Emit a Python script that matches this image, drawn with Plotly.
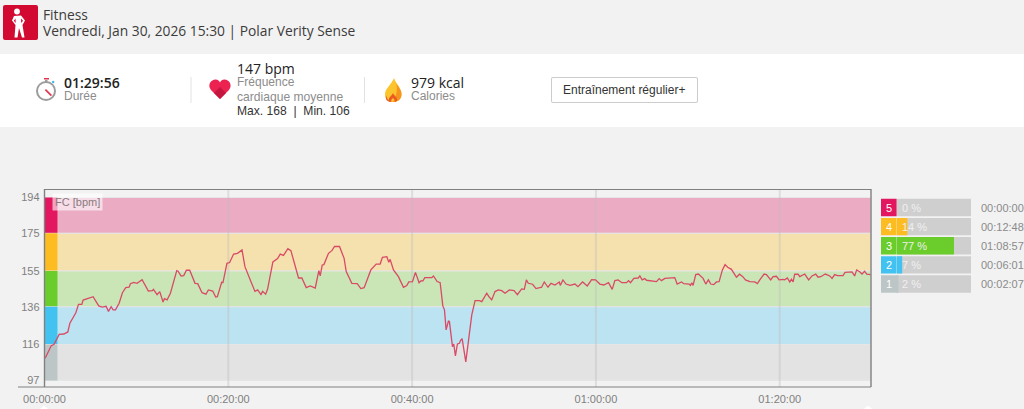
import re

import plotly.graph_objects as go

# courbe FC : minutes depuis le debut / bpm
hr_minutes = [0.07, 0.73, 1.02, 1.3, 1.6, 2.1, 2.54, 2.76, 3.41, 3.7, 4.06, 4.2, 4.64, 5.29, 5.9, 6.27, 6.7, 6.96, 7.25, 7.47,
              7.72, 8.12, 8.48, 8.84, 9.2, 9.35, 9.71, 10.07, 10.62, 11.3, 11.74, 11.85, 12.25, 12.54, 12.9, 13.05, 13.34, 13.7, 14.39, 14.53,
              14.86, 15.15, 15.44, 15.8, 16.38, 16.67, 17.14, 17.57, 17.83, 18.3, 18.63, 18.81, 19.28, 19.42, 19.85, 20.14, 20.58, 21.0, 21.49, 21.81,
              22.39, 22.9, 23.19, 23.55, 23.73, 24.06, 24.27, 24.85, 25.36, 25.65, 26.01, 26.48, 26.81, 27.64, 28.0, 28.48, 28.91, 29.46, 29.85, 30.0,
              30.22, 30.4, 30.9, 31.27, 31.56, 32.1, 32.6, 32.83, 33.44, 34.02, 34.42, 34.78, 35.51, 36.09, 36.52, 36.77, 37.25, 37.46, 37.61, 37.97,
              38.51, 39.06, 39.42, 39.64, 40.04, 40.36, 40.76, 40.98, 41.16, 41.38, 42.14, 42.32, 42.72, 43.05, 43.34, 43.52, 43.7, 43.95, 44.06, 44.39,
              44.53, 44.71, 44.93, 45.15, 45.26, 45.44, 45.84, 46.05, 46.49, 46.85, 47.32, 47.58, 48.12, 48.41, 48.66, 49.02, 49.38, 49.75, 50.11, 50.58,
              51.09, 51.45, 51.92, 52.21, 52.43, 52.64, 53.11, 53.48, 54.09, 54.38, 54.78, 55.11, 55.54, 56.01, 56.12, 56.41, 56.74, 57.17, 57.72, 58.04,
              58.55, 59.06, 59.53, 59.96, 60.43, 60.86, 61.37, 61.77, 62.06, 62.42, 62.82, 63.33, 63.55, 63.76, 64.13, 64.6, 64.78, 65.03, 65.32, 65.5,
              66.15, 66.59, 66.88, 67.13, 67.5, 68.58, 68.84, 69.31, 69.56, 70.14, 70.28, 70.43, 70.57, 70.86, 71.15, 71.66, 71.95, 72.24, 72.49, 72.82,
              73.11, 73.4, 73.76, 74.05, 74.34, 74.74, 75.11, 75.29, 75.62, 75.98, 76.27, 76.74, 77.28, 77.57, 77.83, 78.3, 78.55, 79.02, 79.28, 79.64,
              79.93, 80.36, 80.54, 80.83, 81.09, 81.27, 81.45, 81.63, 81.99, 82.18, 82.72, 83.15, 83.51, 83.91, 84.17, 84.46, 84.96, 85.44, 85.69, 85.98,
              86.27, 86.89, 87.1, 87.86, 88.15, 88.37, 88.73, 88.95, 89.24, 89.46, 89.89]
hr_bpm = [108.7, 115.4, 116, 118.4, 121.4, 121.6, 122.7, 127.3, 132.9, 137.3, 137.3, 139.6, 140.2, 141.4, 136.5, 135.9, 136.3, 133.6, 136.1, 134.4,
          134.4, 137.9, 143.5, 146.2, 146.4, 148.3, 149, 148.5, 150.4, 144.4, 144.6, 145.3, 142.5, 144.1, 138.6, 140.4, 139.7, 143.2, 155.2, 154.9,
          152.4, 152.6, 155.4, 155.4, 148.5, 148.3, 143.5, 142.7, 145, 144.4, 141.2, 141.4, 149, 148.9, 159.1, 159.5, 164, 164.4, 166.2, 157.3,
          150.3, 144.2, 145, 142.5, 144.2, 142.7, 145.3, 159.8, 161.6, 164, 163.3, 166.9, 165.8, 151.3, 151.3, 146.2, 147.1, 146, 155.2, 152.4,
          158.2, 158.4, 164.4, 165.8, 168, 168, 161.7, 154.7, 148.5, 148.3, 145.7, 146.2, 155.6, 158.7, 158.7, 162.3, 162.6, 159.6, 161.2, 155.6,
          152, 146.4, 147.3, 149.2, 149.4, 154.3, 148.8, 149.9, 149.7, 151.5, 151.5, 152.4, 149.4, 148.8, 136.5, 134.4, 123.8, 128.4, 128.2, 114.9,
          116.3, 110, 116.3, 116.7, 118.1, 119.2, 106.8, 114.9, 131.7, 139.3, 139.3, 138.8, 143.2, 141.1, 139.7, 144.1, 145, 144.6, 143.2, 145,
          144.6, 142.5, 145.5, 145.3, 150.3, 148.5, 148, 145.7, 146.4, 149.2, 146.4, 148.5, 147.6, 149.2, 147.4, 150.3, 148.1, 147.4, 148.1, 146.7,
          149.2, 147.1, 150.4, 150.3, 148.1, 147.6, 148.8, 145.3, 149.9, 150.3, 148.8, 148.8, 149.9, 148.8, 151.1, 151.3, 152.4, 150.3, 151, 150.1,
          149.9, 149.4, 151, 149.9, 151.1, 151.5, 148.1, 149.2, 148.3, 148.1, 147.4, 148.8, 147.4, 153.1, 153.4, 151.1, 148.1, 150.3, 148.1, 147.8,
          149.2, 149.4, 155.6, 158.4, 157, 155.9, 153.1, 151.7, 153.3, 152, 150.3, 149.4, 149.2, 148.3, 150.3, 153.4, 153.1, 150.3, 152, 152.2,
          150.3, 150.6, 150.3, 151.3, 149.2, 150.6, 149.2, 153.3, 153.4, 152, 153.4, 150.3, 152.4, 153.4, 151.7, 152, 153.4, 152.4, 151.1, 153.1,
          152.6, 152.6, 154.3, 154.5, 152.4, 155.6, 154.5, 153.4, 154.9, 153.4, 153.1]

# zones cardiaques, de 5 a 1
zone_names = ["Z5", "Z4", "Z3", "Z2", "Z1"]
zone_tops = [194, 175, 155, 136, 116]
zone_bottoms = [175, 155, 136, 116, 97]
zone_pct = [0, 14, 77, 7, 2]
zone_pct_labels = ["0 %", "14 %", "77 %", "7 %", "2 %"]
zone_times = ["00:00:00", "00:12:48", "01:08:57", "00:06:01", "00:02:07"]
zone_colors = ["#e2175f", "#fdbc21", "#6acd2b", "#42c2f0", "#bcc6c6"]
band_colors = ["#ebabc3", "#f5e1ae", "#cae6b6", "#bce3f2", "#e2e3e2"]

y_ticks = [194, 175, 155, 136, 116, 97]
x_ticks = [0, 20, 40, 60, 80]
x_labels = ["00:00:00", "00:20:00", "00:40:00", "01:00:00", "01:20:00"]

BG = "#f2f2f2"
GREY = "#808080"
DARK = "#3c3c3c"
UI_FONT = "Open Sans"
NUM_FONT = "Liberation Sans"
W, H = 1024, 409
Y_RANGE = [93.5, 198.5]


def px(x):
    return round(x / W, 5)


def py(y):
    return round(1 - y / H, 5)


fig = go.Figure()

fig.add_trace(go.Scatter(x=hr_minutes, y=hr_bpm, mode="lines", line=dict(color="#d94a66", width=1.3),
                         showlegend=False, hoverinfo="skip"))

# barres de zones a droite
fig.add_trace(go.Bar(y=zone_names, x=[100] * 5, base=0, orientation="h", marker=dict(color="#cfcfcf"),
                     xaxis="x2", yaxis="y2", showlegend=False, hoverinfo="skip"))
fig.add_trace(go.Bar(y=zone_names, x=zone_pct, base=0, orientation="h", marker=dict(color=zone_colors),
                     xaxis="x2", yaxis="y2", showlegend=False, hoverinfo="skip"))
fig.add_trace(go.Bar(y=zone_names, x=[21.1] * 5, base=-21.6, orientation="h", marker=dict(color=zone_colors),
                     xaxis="x2", yaxis="y2", showlegend=False, hoverinfo="skip"))

shapes = []

# bandes de zones et pastilles a gauche
for top, bottom, band, chip in zip(zone_tops, zone_bottoms, band_colors, zone_colors):
    shapes.append(dict(type="rect", xref="x", yref="y", x0=0, x1=89.93, y0=bottom, y1=top, fillcolor=band,
                       line=dict(color="#e6e6e6", width=1), layer="below"))
    shapes.append(dict(type="rect", xref="x", yref="y", x0=0, x1=1.41, y0=bottom, y1=top, fillcolor=chip,
                       line=dict(width=0), layer="below"))
for t in x_ticks[1:]:
    shapes.append(dict(type="line", xref="x", yref="y", x0=t, x1=t, y0=Y_RANGE[0], y1=Y_RANGE[1],
                       line=dict(color="rgba(190,190,190,0.4)", width=2), layer="below"))


def rect(x0, y0, x1, y1, fill):
    shapes.append(dict(type="rect", xref="paper", yref="paper", x0=px(x0), y0=py(y0), x1=px(x1), y1=py(y1),
                       fillcolor=fill, line=dict(width=0), layer="below"))


def hv_line(x0, y0, x1, y1, color, width):
    shapes.append(dict(type="line", xref="paper", yref="paper", x0=px(x0), y0=py(y0), x1=px(x1), y1=py(y1),
                       line=dict(color=color, width=width), layer="above"))


# chemins ecrits en pixels, convertis en coordonnees paper (commandes absolues seulement)
def path(d, fill):
    parts = re.findall(r"[MLQCZ]|-?[\d.]+", d)
    out, is_x = [], True
    for p in parts:
        if p in "MLQCZ":
            out.append(p)
        else:
            out.append(str(px(float(p)) if is_x else py(float(p))))
            is_x = not is_x
    shapes.append(dict(type="path", xref="paper", yref="paper", path=" ".join(out), fillcolor=fill,
                       line=dict(width=0), layer="above"))


def circle(cx, cy, r, fill):
    shapes.append(dict(type="circle", xref="paper", yref="paper", x0=px(cx - r), x1=px(cx + r), y0=py(cy + r), y1=py(cy - r),
                       fillcolor=fill, line=dict(width=0), layer="above"))


# panneau blanc
rect(0, 54, 1024, 127, "#ffffff")
# cadre du graphique
hv_line(44.5, 189, 44.5, 387, GREY, 1.4)
hv_line(44.5, 189.5, 871, 189.5, GREY, 1.2)
hv_line(871, 189, 871, 387, GREY, 1.4)
hv_line(18, 387, 871, 387, GREY, 1.2)
# repere bas
path("M40,409 L44,405.5 L48,409 Z", "#ffffff")
path("M864,409 L868,405.5 L872,409 Z", "#ffffff")
# separateurs
hv_line(191, 77, 191, 103, "#e2e2e2", 1)
hv_line(364.5, 77, 364.5, 103, "#e2e2e2", 1)
# bouton
path("M553,77 L696,77 Q698,77 698,79 L698,101 Q698,103 696,103 L553,103 Q551,103 551,101 L551,79 Q551,77 553,77 Z", "#cccccc")
path("M553,78 L696,78 Q697,78 697,79 L697,101 Q697,102 696,102 L553,102 Q552,102 552,101 L552,79 Q552,78 553,78 Z", "#ffffff")

# icone sport
path("M5,5 L36,5 Q38,5 38,7 L38,38 Q38,40 36,40 L5,40 Q3,40 3,38 L3,7 Q3,5 5,5 Z", "#d20a32")
circle(17, 11.5, 2.9, "#ffffff")
path("M14,16 L21,15.5 L25,20.5 L22.5,25 L24.5,37.5 L22,37.5 L19,28 L17.5,37.5 L14.5,37.5 L15.5,25 L12,20.5 Z", "#ffffff")
path("M15.5,18.5 L13.8,20.7 L15.7,23 Z", "#d20a32")
path("M21,18.5 L23,20.7 L21.2,23 Z", "#d20a32")

# chrono
circle(46, 91, 10, "#9c9c9c")
circle(46, 91, 8, "#ffffff")
path("M44,78 L49,78 L49,79.5 L44,79.5 Z", "#e2344f")
path("M45,80 L47.5,80 L47.5,82 L45,82 Z", "#9c9c9c")
circle(53.2, 82, 1.2, "#3fb4ea")
path("M44.8,90.2 L46,89 L52,95 L50.8,96.3 Z", "#e2344f")

# coeur
path("M220,99 L211,90 C207,85 211,79.5 215.5,79.5 C218,79.5 219.5,81 220,82.5 C220.5,81 222,79.5 224.5,79.5 C229,79.5 233,85 229,90 Z", "#ec2350")
path("M220,99 L214,93 L220,87 L226,93 Z", "#c5163f")

# flamme
path("M394,78 C396,84 402,88 401.5,95 C401,100 397,102 393,102 C389,102 385,100 385,94 C385,89 391,85 394,78 Z", "#fdc52d")
path("M396,83 C398,87 402,90 401.5,95 C401,100 397,102 393,102 C396,97 398,90 396,83 Z", "#f7941d")
path("M386,95 C387,99 389,102 393,102 L391,102 C388,102 385,100 386,95 Z", "#ec5a23")
path("M393,93 C394,96 398,97 397,101 L395,102 C395,100 394,99 393,98 C392,99 391,100 391,102 L389,101 C388,97 392,96 393,93 Z", "#ec5a23")

annotations = []


def label(x, y, text, size, color, font=UI_FONT, anchor="left", weight=400):
    # les annotations ont ~2px de marge interne a gauche
    shift = -2 if anchor == "left" else 0
    annotations.append(dict(xref="paper", yref="paper", x=px(x), y=py(y), xshift=shift, text=text, showarrow=False,
                            xanchor=anchor, yanchor="middle", font=dict(family=font, size=size, color=color, weight=weight)))


label(43, 14, "Fitness", 13.8, DARK)
label(43, 31, "Vendredi, Jan 30, 2026 15:30 | Polar Verity Sense", 13.8, DARK)
label(64, 82, "01:29:56", 14, "#222222", weight=600)
label(64, 96, "Durée", 12, "#8c8c8c", NUM_FONT)
label(237, 68, "147 bpm", 14, "#222222", weight=500)
label(237, 82, "Fréquence", 12, "#8c8c8c", NUM_FONT)
label(237, 97, "cardiaque moyenne", 12.1, "#8c8c8c", NUM_FONT)
label(237, 111, "Max. 168  |  Min. 106", 12.1, "#333333", NUM_FONT)
label(411, 82, "979 kcal", 14, "#222222", weight=500)
label(411, 96, "Calories", 12, "#8c8c8c", NUM_FONT)
label(624.5, 90, "Entraînement régulier+", 12, "#333333", NUM_FONT, "center")
annotations.append(dict(xref="paper", yref="paper", x=px(78), y=py(201.5), text="FC [bpm]", showarrow=False, xanchor="center",
                        yanchor="middle", bgcolor="rgba(255,255,255,0.6)", borderpad=2,
                        font=dict(family=NUM_FONT, size=11, color="#8a7a80")))

# textes des zones
for name, pct, t in zip(zone_names, zone_pct_labels, zone_times):
    annotations.append(dict(xref="x2", yref="y2", x=-11, y=name, text=name[1], showarrow=False, xanchor="center",
                            font=dict(family=NUM_FONT, size=11, color="#ffffff")))
    annotations.append(dict(xref="x2", yref="y2", x=3.5, y=name, text=pct, showarrow=False, xanchor="left",
                            font=dict(family=NUM_FONT, size=11, color="#efefef")))
    annotations.append(dict(xref="paper", yref="y2", x=px(979), y=name, text=t, showarrow=False, xanchor="left",
                            font=dict(family=NUM_FONT, size=11, color="#8a8a8a")))

fig.update_layout(
    template="none", width=W, height=H, margin=dict(l=0, r=0, t=0, b=0), paper_bgcolor=BG, plot_bgcolor=BG,
    barmode="overlay", bargap=0.09, shapes=shapes, annotations=annotations,
    xaxis=dict(domain=[px(44.5), px(871)], range=[0, 89.93], tickvals=x_ticks, ticktext=x_labels, showgrid=False,
               zeroline=False, showline=False, ticks="", automargin=False, ticklabelstandoff=4,
               tickfont=dict(family=NUM_FONT, size=11, color=GREY)),
    yaxis=dict(domain=[py(387), py(189)], range=Y_RANGE, tickvals=y_ticks, showgrid=False, zeroline=False,
               showline=False, ticks="", automargin=False, ticklabelstandoff=4,
               tickfont=dict(family=NUM_FONT, size=11, color=GREY)),
    xaxis2=dict(domain=[px(881), px(971)], range=[-21.6, 100], visible=False, anchor="y2", automargin=False),
    yaxis2=dict(domain=[py(293.5), py(198)], type="category", categoryorder="array", categoryarray=zone_names[::-1],
                visible=False, anchor="x2", automargin=False),
)

fig.write_html("out.html", config=dict(displayModeBar=False),
               post_script="document.body.style.margin='0';document.body.style.overflow='hidden';")
